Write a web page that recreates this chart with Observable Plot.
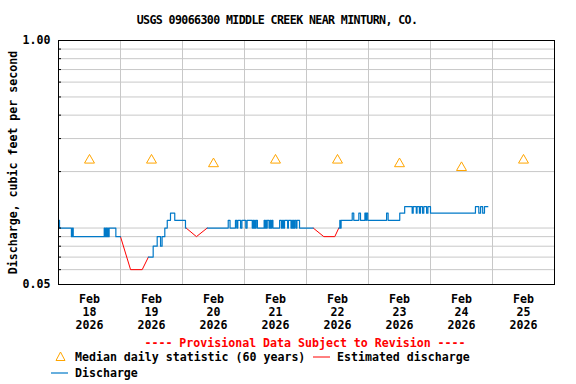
<!DOCTYPE html>
<html><head><meta charset="utf-8">
<script src="https://cdn.jsdelivr.net/npm/d3@7"></script>
<script src="https://cdn.jsdelivr.net/npm/@observablehq/plot@0.6"></script>
<style>
body{margin:0;background:#fff;}
#wrap{position:relative;width:576px;height:384px;overflow:hidden;font-family:"DejaVu Sans Mono",monospace;font-weight:bold;font-size:11.6px;color:#000;}
.t{position:absolute;white-space:pre;line-height:14px;}
#chart{position:absolute;left:0;top:30px;}
.sw{position:absolute;}
</style></head><body>
<div id="wrap">
  <div class="t" id="title" style="left:0;width:554px;top:13px;text-align:center;letter-spacing:-0.6px"></div>
  <div id="chart"></div>
  <div class="t" id="prov" style="left:0;width:610px;top:336px;text-align:center;color:#ff0000"></div>
  <svg class="sw" style="left:55px;top:351px" width="12" height="11"><polygon points="5.5,1 1,9.5 10,9.5" fill="none" stroke="#ffa500" stroke-width="1"/></svg>
  <div class="t" id="leg1" style="left:75px;top:350px"></div>
  <svg class="sw" style="left:313px;top:356px" width="18" height="2"><line x1="0" x2="17" y1="1" y2="1" stroke="#ff0000" stroke-width="1"/></svg>
  <div class="t" id="leg2" style="left:337px;top:350px"></div>
  <svg class="sw" style="left:51px;top:372px" width="18" height="2"><line x1="0" x2="17" y1="1" y2="1" stroke="#0079c8" stroke-width="1.2"/></svg>
  <div class="t" id="leg3" style="left:75px;top:366px"></div>
</div>
<script>
// ---- text ----
const titleText = "USGS 09066300 MIDDLE CREEK NEAR MINTURN, CO.";
const yAxisLabel = "Discharge, cubic feet per second";
const provisionalText = "---- Provisional Data Subject to Revision ----";
const legendLabels = ["Median daily statistic (60 years)", "Estimated discharge", "Discharge"];

// ---- x categories (days, Feb 18..25 2026) ----
const dayLabels = ["Feb\n18\n2026","Feb\n19\n2026","Feb\n20\n2026","Feb\n21\n2026","Feb\n22\n2026","Feb\n23\n2026","Feb\n24\n2026","Feb\n25\n2026"];
const dayNoonHours = [12, 36, 60, 84, 108, 132, 156, 180];
const dayGridHours = [24, 48, 72, 96, 120, 144, 168];

// ---- y ticks / grid ----
const yTickValues = [0.05, 1];
const yTickLabels = ["0.05", "1.00"];
const yGridValues = [0.06,0.07,0.08,0.09,0.1,0.2,0.3,0.4,0.5,0.6,0.7,0.8,0.9];

// ---- median daily statistic (cfs), one per day at noon ----
const medianValues = [0.23, 0.23, 0.22, 0.23, 0.23, 0.22, 0.21, 0.23];

// ---- discharge (hours since Feb 18 00:00, cfs); null = gap ----
const dischargeHours = [
  0, 0.4, 5.0, 5.4, 5.7, 17.7, 18.1, 18.4, 18.7, 19.0, 19.3, 19.6, 22.2, 24.0,
  null,
  34.8, 36.65, 38.2, 39.5, 40.1, 41.15, 42.1, 43.35, 45.0, 49.15, 49.4,
  null,
  57.55, 65.7, 66.4, 68.5, 69.0, 69.4, 70.5, 71.0, 72.5, 73.0, 75.0, 75.3, 75.6, 75.9, 76.2, 76.5, 77.0,
  79.6, 79.9, 80.2, 80.5, 80.8, 81.5, 81.9, 82.2, 82.6, 83.0, 85.6, 86.3, 86.7, 87.1, 87.5, 88.7, 89.0,
  90.0, 90.3, 90.6, 90.9, 91.2, 91.5, 92.0, 92.3, 93.3, 98.6,
  null,
  108.5, 108.9, 109.1, 109.4, 113.7, 114.3, 116.25, 116.9, 118.6, 119.0, 119.2, 119.7, 127.0, 127.6,
  132.1, 134.0, 136.9, 137.3, 138.5, 138.8, 139.7, 140.1, 140.9, 141.4, 142.5, 143.0, 144.0,
  161.4, 162.7, 163.4, 164.2, 164.9, 166.2
];
const dischargeValues = [
  0.11, 0.10, 0.09, 0.10, 0.09, 0.10, 0.09, 0.10, 0.09, 0.10, 0.09, 0.10, 0.09, 0.09,
  null,
  0.07, 0.08, 0.09, 0.08, 0.09, 0.10, 0.11, 0.12, 0.11, 0.10, 0.10,
  null,
  0.10, 0.11, 0.10, 0.11, 0.10, 0.11, 0.10, 0.11, 0.10, 0.11, 0.10, 0.11, 0.10, 0.11, 0.10, 0.11, 0.10,
  0.11, 0.10, 0.11, 0.10, 0.11, 0.10, 0.11, 0.10, 0.11, 0.10, 0.11, 0.10, 0.11, 0.10, 0.11, 0.10, 0.11,
  0.10, 0.11, 0.10, 0.11, 0.10, 0.11, 0.10, 0.11, 0.10, 0.10,
  null,
  0.10, 0.11, 0.10, 0.11, 0.12, 0.11, 0.12, 0.11, 0.12, 0.11, 0.12, 0.11, 0.12, 0.11,
  0.12, 0.13, 0.12, 0.13, 0.12, 0.13, 0.12, 0.13, 0.12, 0.13, 0.12, 0.13, 0.12,
  0.13, 0.12, 0.13, 0.12, 0.13, 0.13
];

// ---- estimated discharge ----
const estimatedHours  = [24.0, 27.9, 32.4, 34.8, null, 49.4, 53.4, 57.55, null, 98.6, 102.7, 106.95, 108.5];
const estimatedValues = [0.09, 0.06, 0.06, 0.07, null, 0.10, 0.09, 0.10,  null, 0.10, 0.09, 0.09, 0.10];

// ---- build ----
const base = Date.UTC(2026, 1, 18);
const toDate = h => (h == null ? null : new Date(base + h * 3600e3));

const discharge = dischargeHours.map((h, i) => ({t: toDate(h), q: dischargeValues[i]}));
const estimated = estimatedHours.map((h, i) => ({t: toDate(h), q: estimatedValues[i]}));
const medians = medianValues.map((v, i) => ({t: toDate(dayNoonHours[i]), q: v}));
const noonDates = dayNoonHours.map(toDate);

document.getElementById("title").textContent = titleText;
document.getElementById("prov").textContent = provisionalText;
document.getElementById("leg1").textContent = legendLabels[0];
document.getElementById("leg2").textContent = legendLabels[1];
document.getElementById("leg3").textContent = legendLabels[2];

const chart = Plot.plot({
  width: 576, height: 302,
  marginTop: 10, marginBottom: 48, marginLeft: 58, marginRight: 22,
  style: {fontFamily: '"DejaVu Sans Mono", monospace', fontSize: "11.6px", fontWeight: "bold", background: "white", color: "black", overflow: "visible"},
  x: {type: "utc", domain: [toDate(0), toDate(192)]},
  y: {type: "log", domain: [0.05, 1]},
  marks: [
    Plot.ruleX(dayGridHours.map(toDate), {stroke: "#c8c8c8", strokeWidth: 1, strokeOpacity: 1}),
    Plot.ruleY(yGridValues, {stroke: "#c8c8c8", strokeWidth: 1, strokeOpacity: 1}),
    Plot.line(estimated, {x: "t", y: "q", stroke: "#ff0000", strokeWidth: 1}),
    Plot.line(discharge, {x: "t", y: "q", curve: "step-after", stroke: "#0079c8", strokeWidth: 1.2}),
    Plot.dot(medians, {x: "t", y: "q", symbol: "triangle", r: 3.7, stroke: "#ffa500", fill: "none", strokeWidth: 1}),
    Plot.frame({stroke: "black", strokeWidth: 1}),
    Plot.axisX({ticks: noonDates, tickSize: 0, tickPadding: 9, lineHeight: 1.12, label: null,
      tickFormat: d => dayLabels[noonDates.findIndex(n => +n === +d)]}),
    Plot.axisY({ticks: yTickValues, tickSize: 0, tickPadding: 8, label: yAxisLabel,
      labelAnchor: "center", labelOffset: 50, labelArrow: false,
      tickFormat: d => yTickLabels[yTickValues.indexOf(d)]}),
    Plot.axisY({ticks: yGridValues, tickSize: -3, tickFormat: () => "", label: null})
  ]
});
document.getElementById("chart").appendChild(chart);
</script>
</body></html>
